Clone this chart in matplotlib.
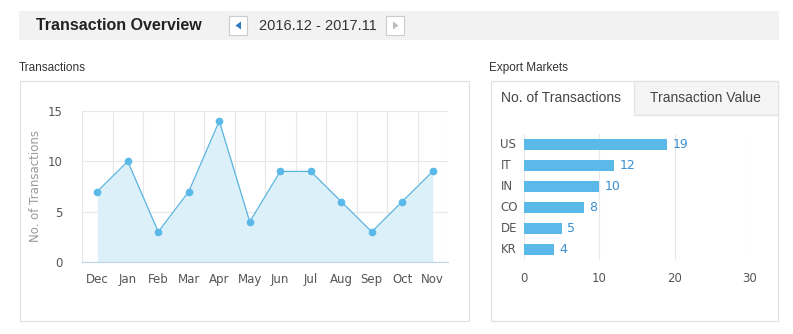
import matplotlib.pyplot as plt
from matplotlib.patches import Rectangle, Polygon
import numpy as np

W, H = 793, 334

months = ['Dec', 'Jan', 'Feb', 'Mar', 'Apr', 'May', 'Jun', 'Jul', 'Aug', 'Sep', 'Oct', 'Nov']
transactions = [7, 10, 3, 7, 14, 4, 9, 9, 6, 3, 6, 9]
markets = ['US', 'IT', 'IN', 'CO', 'DE', 'KR']
market_counts = [19, 12, 10, 8, 5, 4]

line_col = '#5ab4e0'
fill_col = '#dcf0fa'
bar_col = '#5ab9e8'
grid_col = '#e8e8e8'
border_col = '#e2e2e2'
tick_col = '#555555'


def ax_px(fig, x0, y0, x1, y1):
    """ axes from pixel box (top-left origin) """
    return fig.add_axes([x0 / W, 1 - y1 / H, (x1 - x0) / W, (y1 - y0) / H])


fig = plt.figure(figsize=(W / 100, H / 100), dpi=100)
bg = fig.add_axes([0, 0, 1, 1])
bg.set_xlim(0, W)
bg.set_ylim(H, 0)
bg.axis('off')

# header band
bg.add_patch(Rectangle((19, 11), 760, 29, fc='#f2f2f2', ec='none'))
bg.text(36, 25.5, 'Transaction Overview', fontsize=11.5, fontweight='bold',
        family='Liberation Sans', color='#222222', va='center')
for bx in (229, 386):
    bg.add_patch(Rectangle((bx, 16), 18, 19, fc='white', ec='#cccccc', lw=0.8))
bg.add_patch(Polygon([[241, 21.5], [241, 29.5], [235.5, 25.5]], fc='#2e7cc4', ec='none'))
bg.add_patch(Polygon([[393, 21.5], [393, 29.5], [398.5, 25.5]], fc='#bbbbbb', ec='none'))
bg.text(259, 26, '2016.12 - 2017.11', fontsize=10.5, family='Liberation Sans',
        color='#333333', va='center')

# left panel
bg.text(19, 68, 'Transactions', fontsize=8.5, family='Liberation Sans', color='#333333', va='center')
bg.add_patch(Rectangle((19.5, 80.5), 449, 240, fc='none', ec=border_col, lw=0.9))

# right panel
bg.text(489, 68, 'Export Markets', fontsize=8.5, family='Liberation Sans', color='#333333', va='center')
bg.add_patch(Rectangle((490.5, 80.5), 287, 240, fc='none', ec=border_col, lw=0.9))
bg.add_patch(Rectangle((633.5, 80.5), 144, 34, fc='#f5f5f5', ec=border_col, lw=0.9))
bg.text(561, 98, 'No. of Transactions', fontsize=10, family='Liberation Sans',
        color='#444444', ha='center', va='center')
bg.text(705, 98, 'Transaction Value', fontsize=10, family='Liberation Sans',
        color='#444444', ha='center', va='center')

# line chart
ax1 = ax_px(fig, 82, 111, 448, 262)
x = np.arange(len(months))
ax1.fill_between(x, transactions, 0, color=fill_col, lw=0)
ax1.plot(x, transactions, color=line_col, lw=0.9, marker='o', ms=4.5,
         mfc='#5ab9e8', mec='#5ab9e8')
ax1.set_xlim(-0.5, len(months) - 0.5)
ax1.set_ylim(0, 15)
ax1.set_yticks([0, 5, 10, 15])
ax1.set_xticks(x)
ax1.set_xticklabels(months)
ax1.set_xticks(np.arange(-0.5, len(months), 1), minor=True)
ax1.grid(True, which='minor', axis='x', color=grid_col, lw=0.8)
ax1.grid(True, which='major', axis='y', color=grid_col, lw=0.8)
ax1.set_axisbelow(True)
for s in ('top', 'right', 'left'):
    ax1.spines[s].set_visible(False)
ax1.spines['bottom'].set_color('#bcd3e6')
ax1.tick_params(which='both', length=0, labelsize=8.5, labelcolor=tick_col)
ax1.tick_params(axis='x', pad=8)
ax1.tick_params(axis='y', pad=14)
ax1.set_ylabel('No. of Transactions', fontsize=8.5, color='#999999', labelpad=4)
ax1.patch.set_alpha(0)

# bar chart
ax2 = ax_px(fig, 524, 134, 750, 260)
y = np.arange(len(markets))
ax2.barh(y, market_counts, height=0.48, color=bar_col)
for yi, v in zip(y, market_counts):
    ax2.text(v + 0.7, yi, str(v), color='#3a8fd0', fontsize=9, va='center')
ax2.set_xlim(0, 30)
ax2.set_ylim(len(markets) - 0.5, -0.5)
ax2.set_xticks([0, 10, 20, 30])
ax2.set_yticks(y)
ax2.set_yticklabels(markets, ha='left', va='center')
ax2.grid(True, axis='x', color=grid_col, lw=0.8)
ax2.set_axisbelow(True)
for s in ax2.spines.values():
    s.set_visible(False)
ax2.tick_params(length=0, labelsize=8.5, labelcolor=tick_col)
ax2.tick_params(axis='y', pad=17)
ax2.tick_params(axis='x', pad=9)
ax2.patch.set_alpha(0)

plt.savefig('out.png', dpi=100)
